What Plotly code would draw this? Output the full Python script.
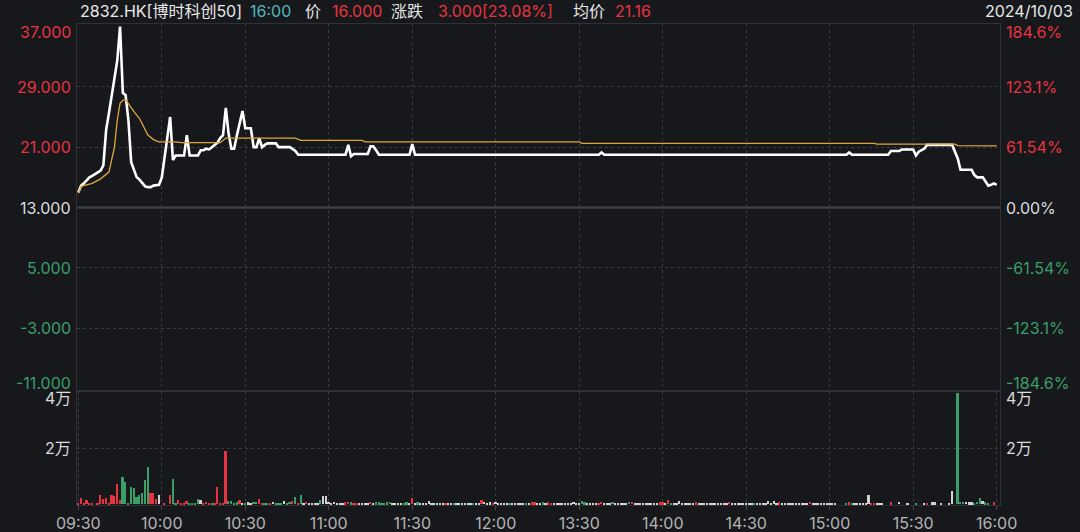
import plotly.graph_objects as go

# ---------------- data ----------------
time_ticks = [0, 30, 60, 90, 120, 150, 180, 210, 240, 270, 300, 330]
time_labels = ["09:30", "10:00", "10:30", "11:00", "11:30", "12:00",
               "13:30", "14:00", "14:30", "15:00", "15:30", "16:00"]

price_minutes = [0, 1, 2, 3, 4, 5, 6, 7, 8, 9, 10, 11, 12, 13, 14, 15, 16, 17, 18, 19,
                 20, 21, 22, 23, 24, 25, 26, 27, 28, 29, 30, 31, 32, 33, 34, 35, 38, 39, 40, 43,
                 44, 45, 46, 47, 48, 49, 50, 51, 52, 53, 54, 55, 56, 57, 58, 59, 60, 62, 63, 64,
                 65, 66, 67, 68, 71, 72, 76, 78, 79, 96, 97, 98, 99, 104, 105, 106, 107, 108,
                 119, 120, 121, 187, 188, 189, 276, 277, 278, 291, 292, 295, 296, 300, 301, 302,
                 303, 304, 305, 314, 315, 316, 317, 321, 322, 323, 325, 326, 327, 328, 329, 330]
price_values = [15.0, 15.9, 16.2, 16.6, 17.0, 17.2, 17.4, 17.6, 17.9, 18.6, 23.3, 25.5, 27.7, 30.0, 32.5, 37.0, 28.2, 27.9, 24.6, 19.0,
                17.9, 17.0, 16.7, 16.3, 15.8, 15.7, 15.7, 15.9, 16.0, 16.0, 17.0, 19.8, 22.6, 25.0, 19.3, 19.9, 19.9, 22.6, 19.9, 19.9,
                20.6, 20.6, 20.8, 20.7, 21.0, 21.3, 21.6, 22.2, 22.6, 26.2, 22.8, 20.8, 20.8, 22.6, 24.2, 25.8, 23.5, 23.5, 21.0, 21.0,
                22.2, 21.0, 21.3, 21.5, 21.5, 21.0, 21.0, 20.5, 20.0, 20.0, 21.3, 19.8, 20.1, 20.1, 21.1, 21.1, 20.6, 20.0,
                20.0, 21.4, 20.0, 20.0, 20.3, 20.0, 20.0, 20.3, 20.0, 20.0, 20.5, 20.5, 20.7, 20.7, 19.9, 20.4,
                20.6, 20.8, 21.3, 21.3, 20.4, 19.5, 18.0, 18.0, 17.3, 17.0, 17.0, 16.4, 15.9, 16.0, 16.2, 16.0]

avg_minutes = [0, 1, 5, 8, 11, 13, 14, 15, 16, 17, 20, 22, 25, 27, 29, 35, 37, 51, 53, 78,
               80, 102, 103, 180, 181, 286, 287, 315, 316, 330]
avg_values = [14.9, 15.8, 16.2, 16.8, 17.7, 21.0, 24.6, 26.8, 27.2, 27.3, 25.7, 24.8, 22.6, 22.0, 21.7, 21.7, 21.6, 21.6, 22.2, 22.2,
              21.9, 21.9, 21.7, 21.7, 21.5, 21.5, 21.4, 21.4, 21.2, 21.16]

volume = [
    600, 2400, 600, 1500, 600, 600, 0, 600, 3300, 1900,
    2100, 600, 3300, 3000, 7300, 1500, 9600, 8100, 600, 6200,
    5800, 2700, 3300, 3900, 8700, 13400, 4200, 4200, 1900, 3300,
    0, 600, 0, 3300, 9000, 600, 1700, 600, 600, 1200,
    600, 600, 600, 1900, 1600, 600, 800, 600, 600, 600,
    6100, 600, 600, 18900, 1100, 1300, 600, 700, 1500, 600,
    600, 700, 600, 800, 900, 1900, 600, 600, 600, 600,
    800, 600, 600, 600, 1200, 600, 800, 1300, 2500, 600,
    3300, 600, 900, 600, 600, 600, 600, 1500, 3000, 3000,
    900, 600, 900, 600, 600, 600, 700, 900, 700, 600,
    600, 600, 600, 600, 600, 900, 600, 700, 700, 600,
    600, 700, 800, 600, 600, 600, 600, 600, 700, 600,
    2400, 600, 700, 600, 600, 600, 1100, 600, 600, 600,
    600, 600, 600, 600, 600, 600, 600, 600, 600, 600,
    600, 600, 600, 600, 600, 1600, 900, 600, 700, 600,
    800, 600, 600, 600, 600, 600, 600, 600, 600, 600,
    600, 600, 600, 700, 700, 600, 600, 700, 600, 700,
    600, 600, 600, 600, 600, 600, 600, 600, 900, 600,
    600, 1300, 700, 600, 600, 600, 600, 600, 1000, 600,
    600, 600, 800, 600, 600, 600, 600, 600, 800, 800,
    600, 600, 600, 600, 600, 600, 600, 600, 600, 700,
    700, 600, 1600, 600, 600, 600, 1100, 600, 600, 600,
    600, 600, 700, 600, 600, 600, 600, 600, 600, 600,
    600, 600, 600, 600, 900, 600, 600, 600, 600, 600,
    600, 600, 600, 600, 600, 600, 600, 600, 1100, 600,
    1100, 600, 700, 600, 600, 600, 600, 600, 600, 600,
    600, 600, 600, 800, 600, 600, 600, 600, 600, 600,
    600, 600, 600, 0, 0, 0, 600, 700, 600, 600,
    600, 600, 600, 600, 3200, 600, 600, 600, 600, 600,
    0, 0, 700, 0, 0, 1000, 0, 0, 600, 0,
    0, 600, 0, 0, 600, 600, 0, 700, 700, 0,
    600, 0, 0, 600, 4800, 0, 39800, 800, 800, 800,
    700, 700, 600, 800, 2300, 1300, 700, 600, 0, 700, 0,
]
direction = [
    1, 1, 1, 1, 1, 1, 0, 1, 1, 1,
    1, 1, 1, 1, 1, 1, -1, -1, -1, -1,
    -1, -1, -1, -1, -1, -1, 1, 1, 1, 0,
    0, 1, 0, 1, -1, -1, 1, 1, 1, 1,
    -1, -1, -1, -1, 0, 1, 1, 1, -1, 1,
    1, 1, 1, 1, -1, -1, -1, -1, 1, 0,
    -1, 0, 0, -1, -1, 1, 1, -1, -1, 1,
    0, -1, -1, -1, 0, -1, -1, 1, -1, 1,
    -1, 0, 1, 0, 0, 0, 0, -1, 0, 0,
    0, 0, 0, 0, 0, 0, 1, 1, -1, 1,
    1, 0, 0, 0, 0, 1, 0, -1, -1, -1,
    -1, -1, -1, 0, 0, 0, 0, -1, -1, 0,
    1, 0, -1, 0, 0, 0, 0, 0, 0, 0,
    0, 0, 1, 0, 0, -1, 0, 0, 0, 0,
    0, 0, -1, 0, 0, 1, 0, 0, 0, 1,
    0, 0, 0, 0, 0, -1, 0, 0, 0, 0,
    0, -1, 0, 1, 1, 0, 0, -1, 0, 1,
    1, 0, 0, 0, 0, 0, 0, 0, 0, 0,
    0, -1, -1, 0, 0, 0, 0, 1, 1, 0,
    0, 0, -1, 0, 0, 0, 0, 0, -1, 1,
    0, 0, 0, 0, 0, 0, 0, 0, 0, 1,
    1, 0, 1, -1, 0, 0, 0, 0, 0, 0,
    0, 0, 1, 0, 0, 0, 0, 0, 0, 0,
    0, 0, 0, 0, 1, 0, 0, 0, 0, 0,
    0, 0, 0, -1, 0, 0, 0, 0, 0, 0,
    0, 0, 1, 0, 0, 0, 0, 0, 0, 0,
    0, 0, 0, 1, 0, 0, 0, 0, 0, 0,
    0, 0, 0, 0, 0, 0, -1, 1, -1, 0,
    0, 0, 0, 0, 0, 1, 1, 0, 0, 0,
    0, 0, 1, 0, 0, 0, 0, 0, 0, 0,
    0, -1, 0, 0, 0, 1, 0, 0, 0, 0,
    0, 0, 0, 0, 0, 0, -1, -1, -1, 0,
    0, 0, -1, -1, -1, 0, -1, -1, 0, 1, 0,
]
minutes = list(range(len(volume)))

price_ticks = [37, 29, 21, 13, 5, -3, -11]
price_labels = ["37.000", "29.000", "21.000", "13.000", "5.000", "-3.000", "-11.000"]
pct_labels = ["184.6%", "123.1%", "61.54%", "0.00%", "-61.54%", "-123.1%", "-184.6%"]
prev_close = 13
vol_ticks = [40000, 20000]
vol_labels = ["4万", "2万"]

header_items = [("2832.HK[博时科创50]", "#e8e8e8"), ("16:00", "#52b6bd"), ("价", "#e8e8e8"),
                ("16.000", "#e8343f"), ("涨跌", "#e8e8e8"), ("3.000[23.08%]", "#e8343f"),
                ("均价", "#e8e8e8"), ("21.16", "#e8343f")]
header_px = [78, 248, 303, 330, 389, 436, 571, 613]
date_text = "2024/10/03"

# ---------------- style ----------------
BG = "#17181c"
RED = "#e8343f"
GREEN = "#3a9f69"
WHITE_T = "#e8e8e8"
GRID = "#3a3b40"
FRAME = "#303136"
FONT = "Inter, Noto Sans CJK SC, sans-serif"
FS = 16

W, H = 1080, 532
ML, MR, MT, MB = 77, 80, 24, 27
plot_w = W - ML - MR
vol_frac = 114 / (H - MT - MB)

bar_colors = [RED if d > 0 else (GREEN if d < 0 else "#d2d2d2") for d in direction]

fig = go.Figure()
fig.add_trace(go.Scatter(x=price_minutes, y=price_values, mode="lines",
                         line=dict(color="#ffffff", width=2.6), xaxis="x", yaxis="y",
                         hoverinfo="skip"))
fig.add_trace(go.Scatter(x=avg_minutes, y=avg_values, mode="lines",
                         line=dict(color="#e0a63c", width=1.3), xaxis="x", yaxis="y",
                         hoverinfo="skip"))
fig.add_trace(go.Bar(x=minutes, y=volume, marker=dict(color=bar_colors, line=dict(width=0)),
                     width=0.62, xaxis="x2", yaxis="y2", hoverinfo="skip"))

xr = [-0.47, 331.19]
common_x = dict(range=xr, showgrid=True, gridcolor=GRID, griddash="dot", gridwidth=1,
                zeroline=False, showline=True, mirror=True, linecolor=FRAME, linewidth=1,
                automargin=False)

fig.update_layout(
    width=W, height=H,
    margin=dict(l=ML, r=MR, t=MT, b=MB, autoexpand=False),
    paper_bgcolor=BG, plot_bgcolor=BG,
    showlegend=False, bargap=0,
    font=dict(family=FONT, size=FS, color=WHITE_T),
    xaxis=dict(domain=[0, 1], anchor="y", tickvals=time_ticks[1:-1], showticklabels=False,
               ticks="", **common_x),
    xaxis2=dict(domain=[0, 1], anchor="y2", tickvals=time_ticks, ticktext=time_labels,
                ticks="outside", ticklen=4, tickcolor="#45464b",
                tickfont=dict(family=FONT, size=FS, color="#b4b4b4"), **common_x),
    yaxis=dict(domain=[vol_frac, 1], anchor="x", range=[-11.33, 37.33],
               tickvals=[29, 21, 5, -3], showticklabels=False, showgrid=True,
               gridcolor=GRID, griddash="dot", zeroline=False, automargin=False,
               showline=True, mirror=True, linecolor=FRAME),
    yaxis2=dict(domain=[0, vol_frac], anchor="x2", range=[-250, 40464],
                tickvals=[20000], showticklabels=False, showgrid=True,
                gridcolor=GRID, griddash="dot", zeroline=False, automargin=False,
                showline=True, mirror=True, linecolor=FRAME),
)

# previous-close line
fig.add_shape(type="line", xref="x domain", yref="y", x0=0, x1=1, y0=prev_close, y1=prev_close,
              line=dict(color="#3d3e43", width=2.5))

ann = []
n = len(price_ticks)
for i, (v, lab, pl) in enumerate(zip(price_ticks, price_labels, pct_labels)):
    col = RED if v > prev_close else (GREEN if v < prev_close else "#dcdcdc")
    ys = -5.5 if i == 0 else (5.5 if i == n - 1 else 0)
    ann.append(dict(x=0, xref="paper", y=v, yref="y", text=lab, showarrow=False,
                    xanchor="right", yanchor="middle", xshift=-4, yshift=ys,
                    font=dict(family=FONT, size=FS, color=col)))
    ann.append(dict(x=1, xref="paper", y=v, yref="y", text=pl, showarrow=False,
                    xanchor="left", yanchor="middle", xshift=4, yshift=ys,
                    font=dict(family=FONT, size=FS, color=col)))
for v, lab in zip(vol_ticks, vol_labels):
    ys = -6 if v == max(vol_ticks) else 0
    for xp, xa, xs in [(0, "right", -4), (1, "left", 4)]:
        ann.append(dict(x=xp, xref="paper", y=v, yref="y2", text=lab, showarrow=False,
                        xanchor=xa, yanchor="middle", xshift=xs, yshift=ys,
                        font=dict(family=FONT, size=FS, color="#dcdcdc")))
for (txt, col), px in zip(header_items, header_px):
    ann.append(dict(x=(px - ML) / plot_w, xref="paper", y=1, yref="paper", text=txt,
                    showarrow=False, xanchor="left", yanchor="middle", yshift=13,
                    font=dict(family=FONT, size=FS, color=col)))
ann.append(dict(x=(1075 - ML) / plot_w, xref="paper", y=1, yref="paper", text=date_text,
                showarrow=False, xanchor="right", yanchor="middle", yshift=13,
                font=dict(family=FONT, size=FS, color="#e8e8e8")))
fig.update_layout(annotations=ann)

fig.write_html("out.html",
               config={"displayModeBar": False},
               post_script="document.body.style.margin='0';document.body.style.padding='0';"
                           "document.body.style.background='" + BG + "';"
                           "document.documentElement.style.overflow='hidden';")
